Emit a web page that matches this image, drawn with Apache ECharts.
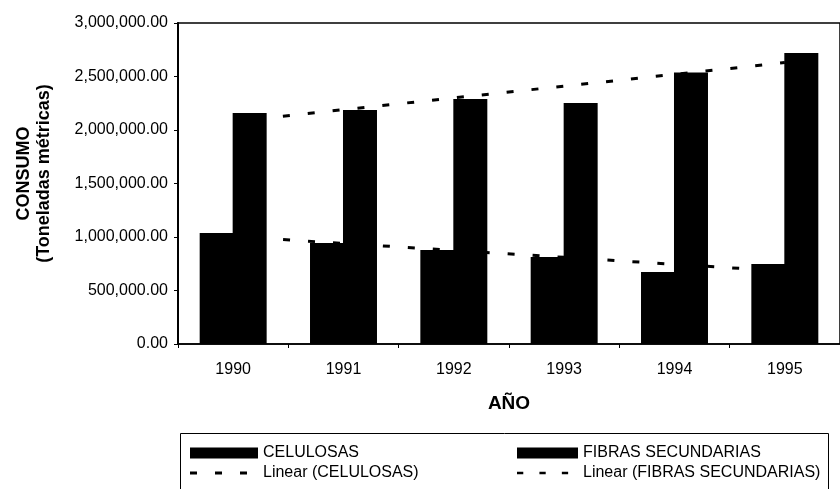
<!DOCTYPE html>
<html>
<head>
<meta charset="utf-8">
<script src="https://cdn.jsdelivr.net/npm/echarts@6/dist/echarts.min.js"></script>
<style>
html,body{margin:0;padding:0;background:#fff;}
#chart{width:840px;height:489px;}
</style>
</head>
<body>
<div id="chart"></div>
<script>
// Data
const years = ['1990', '1991', '1992', '1993', '1994', '1995'];
const celulosas = [1037000, 944000, 879000, 813000, 673000, 748000];
const fibras = [2159000, 2187000, 2290000, 2252000, 2537000, 2720000];
const trendCelulosas = [1005000, 940000, 875000, 810000, 745000, 680000];
const trendFibras = [2080000, 2190000, 2300000, 2410000, 2520000, 2630000];
const yTicks = [0, 500000, 1000000, 1500000, 2000000, 2500000, 3000000];

const FONT = '"Liberation Sans", Arial, sans-serif';

function fmt(v) {
  const s = Math.round(v).toString().replace(/\B(?=(\d{3})+(?!\d))/g, ',');
  return s + '.00';
}

// legend icon: three short dashes (keeps a 68x11 bounding box)
const dashIcon = 'path://M0,4h7v3h-7z M25,4h7v3h-7z M50,4h7v3h-7z M0,0h0.05v0.05h-0.05z M67.95,10.95h0.05v0.05h-0.05z';

const chart = echarts.init(document.getElementById('chart'), null, {renderer: 'canvas'});

const dash = [7, 18];

chart.setOption({
  backgroundColor: '#ffffff',
  animation: false,
  textStyle: {fontFamily: FONT, color: '#000'},
  grid: {
    left: 178, top: 23, width: 670, bottom: 145,
    show: true, borderColor: '#000', borderWidth: 1.5, backgroundColor: 'transparent'
  },
  xAxis: {
    type: 'category',
    data: years,
    boundaryGap: true,
    name: 'AÑO',
    nameLocation: 'middle',
    nameGap: 50,
    nameTextStyle: {fontFamily: FONT, fontSize: 19, fontWeight: 'bold', color: '#000'},
    axisLine: {lineStyle: {color: '#000', width: 1.5}},
    axisTick: {show: true, length: 4, lineStyle: {color: '#000', width: 1}},
    axisLabel: {fontFamily: FONT, fontSize: 16, color: '#000', margin: 18},
    splitLine: {show: false}
  },
  yAxis: {
    type: 'value',
    min: yTicks[0],
    max: yTicks[yTicks.length - 1],
    interval: yTicks[1] - yTicks[0],
    name: '{a|CONSUMO}\n{a|(Toneladas métricas)}',
    nameLocation: 'middle',
    nameGap: 124,
    nameRotate: 90,
    nameTextStyle: {
      padding: [0, 0, 0, 20],
      rich: {a: {fontFamily: FONT, fontSize: 18, fontWeight: 'bold', color: '#000', lineHeight: 20}}
    },
    axisLine: {show: true, lineStyle: {color: '#000', width: 2}},
    axisTick: {show: true, length: 4, lineStyle: {color: '#000', width: 1}},
    axisLabel: {fontFamily: FONT, fontSize: 16, color: '#000', margin: 10, formatter: fmt},
    splitLine: {show: false}
  },
  legend: [
    {
      orient: 'vertical', left: 185, top: 440,
      itemWidth: 68, itemHeight: 11, itemGap: 4,
      textStyle: {fontFamily: FONT, fontSize: 16, color: '#000'},
      data: [{name: 'CELULOSAS', icon: 'rect'}, {name: 'Linear (CELULOSAS)', icon: dashIcon}]
    },
    {
      orient: 'vertical', left: 512, top: 440,
      itemWidth: 61, itemHeight: 11, itemGap: 4,
      textStyle: {fontFamily: FONT, fontSize: 16, color: '#000'},
      data: [{name: 'FIBRAS SECUNDARIAS', icon: 'rect'}, {name: 'Linear (FIBRAS SECUNDARIAS)', icon: dashIcon}]
    }
  ],
  graphic: [
    {
      type: 'rect', left: 180, top: 433, z: -1,
      shape: {width: 648, height: 70},
      style: {fill: 'transparent', stroke: '#000', lineWidth: 1}
    }
  ],
  series: [
    {
      name: 'CELULOSAS', type: 'bar', data: celulosas,
      barWidth: 34, barGap: '-3%',
      itemStyle: {color: '#000'}
    },
    {
      name: 'FIBRAS SECUNDARIAS', type: 'bar', data: fibras,
      barWidth: 34, barGap: '-3%',
      itemStyle: {color: '#000'}
    },
    {
      name: 'Linear (CELULOSAS)', type: 'line', data: trendCelulosas,
      symbol: 'none', z: 1,
      itemStyle: {color: '#000'},
      lineStyle: {color: '#000', width: 3, type: dash}
    },
    {
      name: 'Linear (FIBRAS SECUNDARIAS)', type: 'line', data: trendFibras,
      symbol: 'none', z: 1,
      itemStyle: {color: '#000'},
      lineStyle: {color: '#000', width: 3, type: dash}
    }
  ]
});
</script>
</body>
</html>
